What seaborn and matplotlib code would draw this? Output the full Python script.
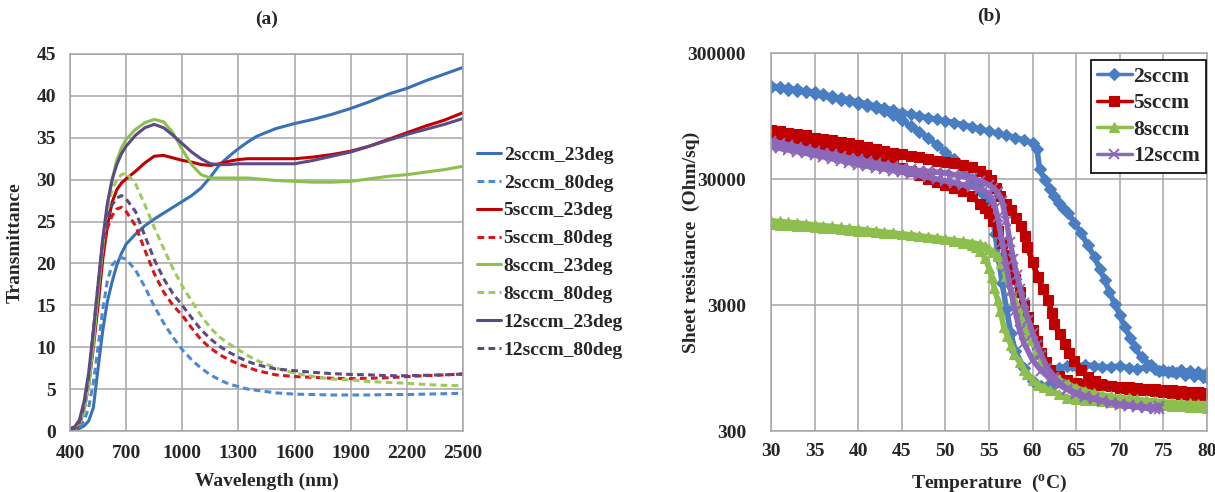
import matplotlib
matplotlib.use("Agg")
import matplotlib.pyplot as plt
from matplotlib.lines import Line2D
from matplotlib.ticker import FixedLocator, NullFormatter, FuncFormatter
import seaborn as sns
import numpy as np

# ---------------- (a) transmittance data ----------------
wl = [400, 425, 450, 475, 500, 525, 550, 575, 600, 625, 650, 675, 700, 750, 800, 850,
      900, 950, 1000, 1050, 1100, 1150, 1200, 1250, 1300, 1350, 1400, 1500, 1600, 1700,
      1800, 1900, 2000, 2100, 2200, 2300, 2400, 2500]

s2_23 = [0.0, 0.1, 0.3, 0.6, 1.2, 2.8, 7.5, 12.0, 15.5, 17.8, 19.8, 21.2, 22.3, 23.5, 24.5, 25.3,
         26.0, 26.7, 27.4, 28.1, 29.0, 30.3, 31.8, 32.8, 33.7, 34.5, 35.2, 36.1, 36.7, 37.2,
         37.8, 38.5, 39.3, 40.2, 40.9, 41.8, 42.6, 43.4]
s2_80 = [0.0, 0.1, 0.4, 1.2, 2.8, 5.8, 10.0, 14.5, 18.0, 19.8, 20.4, 20.7, 20.5, 19.2, 17.2, 14.9,
         12.9, 11.2, 9.7, 8.5, 7.5, 6.7, 6.1, 5.6, 5.3, 5.0, 4.85, 4.55, 4.4, 4.35,
         4.3, 4.3, 4.3, 4.35, 4.35, 4.4, 4.45, 4.5]
s5_23 = [0.1, 0.3, 0.8, 2.5, 5.5, 10.0, 15.0, 20.5, 24.5, 27.3, 28.8, 29.6, 30.1, 31.0, 32.0, 32.8,
         32.9, 32.6, 32.3, 32.1, 31.8, 31.7, 31.9, 32.2, 32.4, 32.5, 32.5, 32.5, 32.5, 32.7,
         33.0, 33.4, 34.0, 34.8, 35.6, 36.4, 37.1, 38.0]
s5_80 = [0.0, 0.2, 0.8, 2.5, 6.0, 11.5, 17.0, 21.5, 24.2, 25.7, 26.5, 26.7, 26.2, 24.5, 21.6, 18.8,
         16.6, 15.0, 13.8, 12.3, 10.9, 9.9, 9.1, 8.5, 8.0, 7.6, 7.2, 6.7, 6.5, 6.4,
         6.3, 6.25, 6.3, 6.35, 6.5, 6.6, 6.7, 6.8]
s8_23 = [0.2, 0.4, 1.0, 2.5, 5.5, 10.5, 16.5, 22.0, 27.0, 30.0, 32.3, 33.8, 34.8, 36.0, 36.8, 37.2,
         36.9, 35.6, 33.6, 31.8, 30.6, 30.2, 30.2, 30.2, 30.2, 30.2, 30.1, 29.9, 29.8, 29.7,
         29.7, 29.8, 30.1, 30.4, 30.6, 30.9, 31.2, 31.6]
s8_80 = [0.0, 0.2, 0.8, 2.3, 5.5, 11.0, 17.0, 22.5, 26.5, 28.8, 30.0, 30.6, 30.8, 29.5, 27.0, 24.3,
         21.8, 19.4, 17.3, 15.5, 13.8, 12.3, 11.2, 10.4, 9.7, 9.0, 8.4, 7.5, 6.9, 6.5,
         6.2, 6.1, 5.9, 5.8, 5.7, 5.55, 5.45, 5.4]
s12_23 = [0.3, 0.5, 1.3, 3.5, 7.0, 12.0, 17.5, 23.0, 27.2, 30.0, 31.8, 33.1, 34.0, 35.3, 36.2, 36.6,
          36.2, 35.3, 34.3, 33.3, 32.5, 31.9, 31.8, 31.8, 31.9, 31.9, 31.9, 31.9, 31.9, 32.3,
          32.8, 33.3, 34.0, 34.7, 35.4, 36.0, 36.6, 37.3]
s12_80 = [0.1, 0.3, 1.0, 3.0, 6.5, 12.0, 17.5, 22.5, 25.5, 27.0, 27.8, 28.1, 27.7, 26.2, 23.3, 20.5,
          18.2, 16.4, 15.0, 13.5, 12.1, 11.0, 10.1, 9.4, 8.8, 8.3, 7.9, 7.4, 7.2, 7.0,
          6.85, 6.75, 6.7, 6.6, 6.6, 6.65, 6.7, 6.8]

labels_a = ["2sccm_23deg", "2sccm_80deg", "5sccm_23deg", "5sccm_80deg",
            "8sccm_23deg", "8sccm_80deg", "12sccm_23deg", "12sccm_80deg"]
series_a = [s2_23, s2_80, s5_23, s5_80, s8_23, s8_80, s12_23, s12_80]
colors_a = ["#3A70B5", "#4A8AD2", "#C00000", "#D8141C", "#8CC04E", "#9CCB5C", "#5C4A88", "#5E4A7E"]

# ---------------- (b) sheet resistance data (heating / cooling branches) ----------------
b2_heat_T = [30, 31, 32, 33, 34, 35, 36, 37, 38, 39, 40, 41, 42, 43, 44, 45, 46, 47, 48, 49, 50,
             51, 52, 53, 54, 55, 56, 57, 58, 59, 60, 60.5, 60.8, 61.4, 62, 62.5, 63, 63.5, 64.1,
             64.8, 65.6, 66.3, 67.1, 67.7, 68.3, 68.8, 69.4, 70, 70.6, 71.2, 71.7, 72.5, 73.6,
             74.5, 75.5, 76.5, 77.5, 78.5, 79.5, 80]
b2_heat_R = [165000, 161000, 157000, 154000, 150000, 147000, 141000, 136000, 131000, 127000,
             123000, 118000, 114000, 110000, 106000, 101000, 98000, 95000, 92000, 89500, 87000,
             84000, 81000, 78000, 75000, 72000, 69000, 66500, 64000, 61000, 58000, 52000, 36000,
             29600, 25000, 21800, 19500, 17800, 16000, 13500, 11100, 9000, 7230, 5800, 4710,
             3800, 3070, 2500, 2000, 1650, 1385, 1150, 1000, 900, 880, 860, 840, 820, 800, 790]
b2_cool_T = [30, 31, 32, 33, 34, 35, 36, 37, 38, 39, 40, 41, 42, 43, 44, 45, 46, 47, 48, 49, 50,
             51, 52, 53, 53.7, 54.3, 54.9, 55.3, 55.7, 56.1, 56.5, 57, 57.5, 58, 59, 60, 61, 62,
             63, 64, 64.5, 65, 66, 67, 68, 69, 70, 71, 72, 73, 74, 75, 76, 77, 78, 79, 80]
b2_cool_R = [160000, 157000, 153000, 150000, 146000, 143000, 138000, 133000, 128000, 124000,
             119000, 114000, 109000, 104000, 97000, 88000, 79000, 71000, 64000, 56000, 49000,
             43000, 37000, 30000, 26200, 23000, 20500, 16000, 11000, 7000, 4500, 2800, 1800,
             1300, 950, 750, 680, 700, 950, 980, 1000, 980, 1010, 990, 970, 960, 990, 950,
             930, 960, 940, 920, 900, 910, 890, 880, 870]

b5_heat_T = [30, 31, 32, 33, 34, 35, 36, 37, 38, 39, 40, 41, 42, 43, 44, 45, 46, 47, 48, 49, 50,
             51, 52, 53, 54, 54.6, 55.2, 55.8, 56.3, 56.9, 57.5, 58.1, 58.7, 59.1, 59.4, 60,
             60.6, 61.2, 61.8, 62.2, 62.5, 63.1, 63.7, 64.2, 64.8, 65.6, 66.4, 67.1, 67.9, 69,
             70, 71, 72, 73, 74, 75, 76, 77, 78, 79, 80]
b5_heat_R = [74000, 72000, 70000, 68500, 66500, 64000, 62500, 61000, 59500, 58000, 56000, 54000,
             52000, 50000, 48500, 47000, 45500, 44500, 43000, 42000, 41000, 40000, 39000, 37500,
             34500, 32000, 29600, 25500, 21800, 19000, 17000, 14800, 12600, 10500, 8700, 6600,
             5000, 4000, 3270, 2600, 2120, 1750, 1470, 1250, 1085, 920, 800, 750, 710, 680, 660,
             650, 640, 630, 620, 610, 600, 590, 580, 570, 560]
b5_cool_T = [30, 31, 32, 33, 34, 35, 36, 37, 38, 39, 40, 41, 42, 43, 44, 45, 46, 47, 48, 49, 50,
             51, 52, 53, 54, 54.5, 55, 55.5, 56, 56.5, 57, 57.5, 58, 58.5, 59, 59.5, 60, 60.5,
             61, 61.5, 62, 63, 64, 65, 66, 67, 68, 69, 70, 71, 72, 73, 74, 75, 76, 77, 78, 79, 80]
b5_cool_R = [67000, 65000, 63000, 61000, 59500, 58000, 56000, 54500, 53000, 51000, 49500, 47500,
             45500, 43000, 40000, 37000, 34500, 32000, 30000, 28500, 27000, 25500, 24000, 22000,
             19000, 17500, 16000, 14000, 11500, 9300, 7500, 6000, 4800, 3800, 3000, 2400, 1900,
             1550, 1250, 1050, 920, 820, 760, 720, 710, 700, 690, 680, 670, 665, 660, 650, 645,
             640, 630, 625, 615, 610, 600]

b8_heat_T = [30, 31, 32, 33, 34, 35, 36, 37, 38, 39, 40, 41, 42, 43, 44, 45, 46, 47, 48, 49, 50,
             51, 52, 53, 54, 54.5, 55, 55.5, 56, 56.4, 56.9, 57.5, 57.9, 58.3, 58.7, 59.1, 59.5,
             59.8, 60.4, 61, 61.5, 62.1, 63, 64.1, 65, 66, 67, 68, 69, 70, 71, 72, 73, 74, 75,
             76, 77, 78, 79, 80]
b8_heat_R = [14000, 13800, 13600, 13400, 13200, 13000, 12800, 12600, 12400, 12200, 12000, 11800,
             11600, 11400, 11200, 11000, 10800, 10600, 10400, 10200, 10000, 9800, 9600, 9400,
             9100, 8800, 8400, 7900, 7300, 6500, 5100, 3930, 3350, 2890, 2400, 2000, 1750, 1570,
             1300, 1085, 960, 850, 770, 706, 660, 625, 600, 580, 565, 553, 545, 535, 525, 520,
             510, 505, 500, 497, 495, 495]
b8_cool_T = [30, 31, 32, 33, 34, 35, 36, 37, 38, 39, 40, 41, 42, 43, 44, 45, 46, 47, 48, 49, 50,
             51, 52, 53, 53.5, 54, 54.5, 55, 55.3, 55.6, 56, 56.3, 56.7, 57.1, 57.5, 57.9, 58.5,
             59, 59.4, 60, 60.6, 61.3, 62, 63, 64, 65, 66, 67, 68, 69, 70, 71, 72, 73, 74, 75,
             76, 77, 78, 79, 80]
b8_cool_R = [13200, 13050, 12900, 12750, 12600, 12450, 12300, 12150, 12000, 11850, 11700, 11550,
             11400, 11250, 11100, 10950, 10800, 10600, 10400, 10200, 10000, 9700, 9400, 9000,
             8600, 8000, 7100, 5900, 5000, 4100, 3270, 2700, 2000, 1700, 1450, 1225, 1050, 920,
             850, 760, 700, 665, 630, 590, 553, 540, 530, 525, 520, 510, 505, 500, 495, 490, 485,
             480, 475, 470, 465, 462, 460]

b12_heat_T = [30, 31, 32, 33, 34, 35, 36, 37, 38, 39, 40, 41, 42, 43, 44, 45, 46, 47, 48, 49, 50,
              51, 52, 53, 54, 55, 55.5, 56, 56.5, 57, 57.4, 57.8, 58.2, 58.6, 59, 59.5, 60, 60.5,
              61, 61.7, 62.5, 63.2, 64, 65, 66, 67, 68, 69, 70, 71, 72, 73, 74, 74.5]
b12_heat_R = [60000, 58000, 56000, 54000, 52000, 50000, 48500, 47000, 45500, 44000, 43000, 41500,
              40000, 39000, 38000, 37000, 36000, 35000, 34500, 34000, 33500, 32500, 31500, 30500,
              29000, 27000, 25500, 23500, 20000, 14000, 9500, 7000, 5200, 4000, 3100, 2300, 1800,
              1450, 1200, 950, 800, 710, 650, 600, 570, 545, 520, 500, 490, 480, 470, 465, 460, 470]
b12_cool_T = [30, 31, 32, 33, 34, 35, 36, 37, 38, 39, 40, 41, 42, 43, 44, 45, 46, 47, 48, 49, 50,
              51, 52, 53, 54, 55, 55.5, 56, 56.5, 57, 57.5, 58, 58.5, 59, 60, 61, 62, 63, 64, 65,
              66, 67, 68, 69, 70, 71, 72, 73, 74, 74.5]
b12_cool_R = [54000, 52500, 51000, 49500, 48000, 46500, 45000, 43500, 42000, 40500, 39000, 38000,
              37000, 36000, 35000, 34000, 33000, 32000, 31000, 30000, 29000, 28000, 27000, 26000,
              25000, 23000, 20000, 15000, 9500, 6000, 3900, 2700, 1900, 1500, 1100, 900, 780,
              700, 640, 590, 560, 540, 520, 500, 485, 475, 465, 455, 450, 450]

labels_b = ["2sccm", "5sccm", "8sccm", "12sccm"]
colors_b = ["#4A7EC2", "#C00000", "#8DBE4E", "#8C68B8"]
markers_b = ["D", "s", "^", "x"]
msizes_b = [6, 7.5, 7, 7]
branches_b = [
    [(b2_heat_T, b2_heat_R), (b2_cool_T, b2_cool_R)],
    [(b5_heat_T, b5_heat_R), (b5_cool_T, b5_cool_R)],
    [(b8_heat_T, b8_heat_R), (b8_cool_T, b8_cool_R)],
    [(b12_heat_T, b12_heat_R), (b12_cool_T, b12_cool_R)],
]

# ---------------- figure ----------------
sns.set_style("white")
plt.rcParams["font.family"] = ["Liberation Serif", "DejaVu Serif"]
plt.rcParams["font.weight"] = "bold"
plt.rcParams["axes.labelweight"] = "bold"
plt.rcParams["axes.titleweight"] = "bold"
plt.rcParams["mathtext.default"] = "regular"

W, H = 1215, 492
fig = plt.figure(figsize=(W / 100, H / 100), dpi=100)
ax1 = fig.add_axes([70 / W, 1 - 431 / H, (463 - 70) / W, (431 - 54) / H])
ax2 = fig.add_axes([771 / W, 1 - 431 / H, (1207 - 771) / W, (431 - 53) / H])

grid_col = "#A6A6A6"

# panel (a)
for lab, ys, col in zip(labels_a, series_a, colors_a):
    dashed = lab.endswith("80deg")
    sns.lineplot(x=wl, y=ys, ax=ax1, color=col, linewidth=2.2, label=lab,
                 linestyle=(0, (2.2, 1.4)) if dashed else "-")
ax1.set_xlim(400, 2500)
ax1.set_ylim(0, 45)
ax1.set_xticks(range(400, 2501, 300))
ax1.set_yticks(range(0, 46, 5))
ax1.grid(True, color=grid_col, linewidth=1.1)
ax1.tick_params(length=0, labelsize=14, pad=10)
for sp in ax1.spines.values():
    sp.set_color(grid_col)
    sp.set_linewidth(1.1)
ax1.set_xlabel("Wavelength (nm)", fontsize=14, labelpad=8)
ax1.set_ylabel("Transmittance", fontsize=14, labelpad=9)
ax1.set_title("(a)", fontsize=14, pad=22)
h, l = ax1.get_legend_handles_labels()
ax1.legend(h, l, loc="upper left", bbox_to_anchor=(477 / W, 1 - 146 / H),
           bbox_transform=fig.transFigure, frameon=False, fontsize=14,
           handlelength=1.25, handletextpad=0.12, labelspacing=0.53, borderpad=0,
           borderaxespad=0)

# panel (b)
for lab, col, mk, ms, brs in zip(labels_b, colors_b, markers_b, msizes_b, branches_b):
    for T, R in brs:
        sns.lineplot(x=T, y=R, ax=ax2, color=col, linewidth=4, marker=mk, markersize=ms,
                     markeredgecolor=col, markeredgewidth=1.4 if mk == "x" else 0.8,
                     estimator=None, sort=False, legend=False)
ax2.set_yscale("log")
ax2.set_xlim(30, 80)
ax2.set_ylim(300, 300000)
ax2.set_xticks(range(30, 81, 5))
ax2.xaxis.set_minor_locator(FixedLocator(list(range(30, 81))))
ax2.yaxis.set_major_locator(FixedLocator([300, 3000, 30000, 300000]))
ax2.yaxis.set_major_formatter(FuncFormatter(lambda v, p: "%d" % round(v)))
minor_y = [300 * k * d for d in (1, 10, 100) for k in range(2, 10)]
ax2.yaxis.set_minor_locator(FixedLocator(minor_y))
ax2.yaxis.set_minor_formatter(NullFormatter())
ax2.grid(True, which="major", color=grid_col, linewidth=1.1)
ax2.tick_params(which="major", length=0, labelsize=14)
ax2.tick_params(axis="y", which="major", pad=18)
ax2.tick_params(axis="x", which="major", pad=9)
ax2.tick_params(which="minor", direction="in", length=4, width=0.8, color="#8C8C8C")
for sp in ax2.spines.values():
    sp.set_color(grid_col)
    sp.set_linewidth(1.1)
ax2.set_xlabel("Temperature  ($^{o}$C)", fontsize=14, labelpad=9)
ax2.set_ylabel("Sheet resistance  (Ohm/sq)", fontsize=14, labelpad=-9)
ax2.set_title("(b)", fontsize=14, pad=23)

handles_b = [Line2D([], [], color=c, marker=m, markersize=s, linewidth=2.5, markeredgecolor=c,
                    markeredgewidth=1.4 if m == "x" else 0.8)
             for c, m, s in zip(colors_b, markers_b, msizes_b)]
leg = ax2.legend(handles_b, labels_b, loc="upper right", bbox_to_anchor=(1206 / W, 1 - 60 / H),
                 bbox_transform=fig.transFigure, fontsize=15.5, fancybox=False, framealpha=1,
                 edgecolor="black", handlelength=1.6, handletextpad=0.05, labelspacing=0.3,
                 borderpad=0.3, borderaxespad=0)
leg.get_frame().set_linewidth(1.2)

fig.savefig("out.png", dpi=100)
